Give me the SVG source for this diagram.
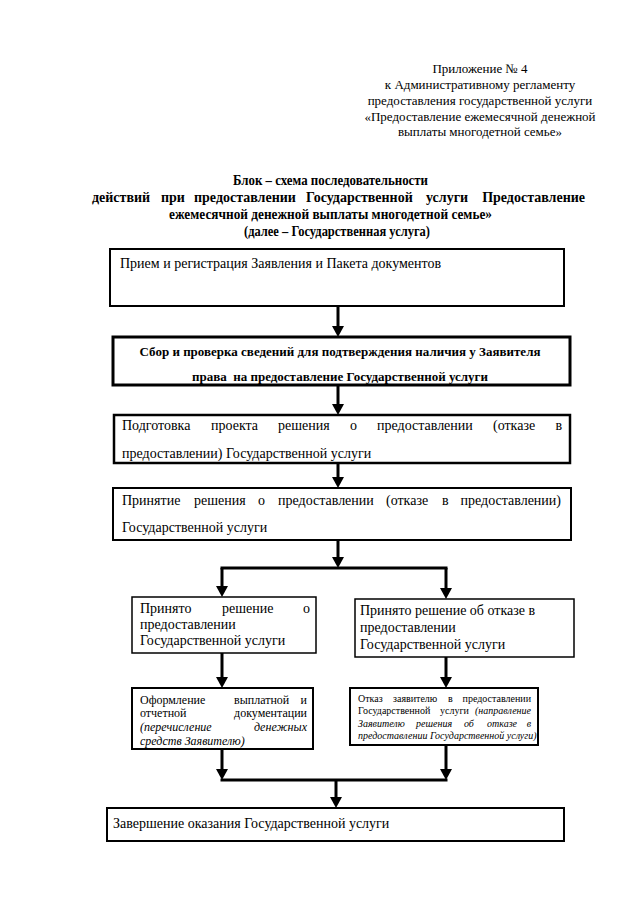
<svg xmlns="http://www.w3.org/2000/svg" width="640" height="905" viewBox="0 0 640 905">
<style>
text{font-family:"Liberation Serif","Times New Roman",serif;fill:#000}
.hd{font-size:13px;text-anchor:middle}
.tt{font-size:14px;font-weight:bold}
.b{font-size:14px}
.bb{font-size:13px;font-weight:bold;text-anchor:middle}
.m{font-size:14px}
.s{font-size:12px}
.xs{font-size:10px}
.i{font-style:italic}
.e{text-anchor:end}
rect{fill:#fff;stroke:#000}
.c line{stroke:#000;stroke-width:3}
.c polygon{fill:#000}
</style>
<rect x="0" y="0" width="640" height="905" style="stroke:none"/>
<g id="header">
<text class="hd" x="480" y="73">Приложение № 4</text>
<text class="hd" x="480" y="89">к Административному регламенту</text>
<text class="hd" x="480" y="105">предоставления государственной услуги</text>
<text class="hd" x="480" y="121">«Предоставление ежемесячной денежной</text>
<text class="hd" x="480" y="136">выплаты многодетной семье»</text>
</g>
<g id="title">
<text class="tt" x="233" y="185" textLength="195" lengthAdjust="spacingAndGlyphs">Блок – схема последовательности</text>
<text class="tt" y="202"><tspan x="92">действий</tspan><tspan x="161">при</tspan><tspan x="194">предоставлении</tspan><tspan x="306">Государственной</tspan><tspan x="426">услуги</tspan></text>
<text class="tt e" x="585" y="202">Предоставление</text>
<text class="tt" x="169" y="219" textLength="323" lengthAdjust="spacingAndGlyphs">ежемесячной денежной выплаты многодетной семье»</text>
<text class="tt" x="244" y="236" textLength="186" lengthAdjust="spacingAndGlyphs">(далее – Государственная услуга)</text>
</g>
<g id="n1">
<rect x="110" y="249" width="454" height="57" stroke-width="2"/>
<text class="b" x="120" y="268">Прием и регистрация Заявления и Пакета документов</text>
</g>
<g id="n2">
<rect x="113" y="337" width="457" height="48" stroke-width="3"/>
<text class="bb" x="340" y="356">Сбор и проверка сведений для подтверждения наличия у Заявителя</text>
<text class="bb" x="340" y="381" xml:space="preserve">права  на предоставление Государственной услуги</text>
</g>
<g id="n3">
<rect x="114" y="415" width="456" height="48" stroke-width="2.5"/>
<text class="b" y="430"><tspan x="122">Подготовка</tspan><tspan x="211">проекта</tspan><tspan x="278">решения</tspan><tspan x="350">о</tspan><tspan x="377">предоставлении</tspan><tspan x="493">(отказе</tspan></text>
<text class="b e" x="562" y="430">в</text>
<text class="b" x="122" y="458">предоставлении) Государственной услуги</text>
</g>
<g id="n4">
<rect x="113" y="488" width="458" height="52" stroke-width="2"/>
<text class="b" y="505"><tspan x="122">Принятие</tspan><tspan x="194">решения</tspan><tspan x="258">о</tspan><tspan x="278">предоставлении</tspan><tspan x="386">(отказе</tspan><tspan x="442">в</tspan></text>
<text class="b e" x="561" y="505">предоставлении)</text>
<text class="b" x="122" y="532">Государственной услуги</text>
</g>
<g id="n5">
<rect x="132" y="597" width="184" height="56" stroke-width="1.5"/>
<text class="m" y="613"><tspan x="140">Принято</tspan><tspan x="222">решение</tspan></text>
<text class="m e" x="310" y="613">о</text>
<text class="m" x="140" y="629">предоставлении</text>
<text class="m" x="140" y="645">Государственной услуги</text>
</g>
<g id="n6">
<rect x="355" y="599" width="219" height="58" stroke-width="1.5"/>
<text class="m" x="360" y="615">Принято решение об отказе в</text>
<text class="m" x="360" y="632">предоставлении</text>
<text class="m" x="360" y="649">Государственной услуги</text>
</g>
<g id="n7">
<rect x="132" y="688" width="181" height="61" stroke-width="2"/>
<text class="s" y="704"><tspan x="140">Оформление</tspan><tspan x="234">выплатной</tspan></text>
<text class="s e" x="307" y="704">и</text>
<text class="s" x="140" y="717">отчетной</text>
<text class="s e" x="307" y="717">документации</text>
<text class="s i" x="140" y="731">(перечисление</text>
<text class="s i e" x="307" y="731">денежных</text>
<text class="s i" x="140" y="745">средств Заявителю)</text>
</g>
<g id="n8">
<rect x="350" y="688" width="188" height="57" stroke-width="2"/>
<text class="xs" y="702"><tspan x="358">Отказ</tspan><tspan x="393">заявителю</tspan><tspan x="448">в</tspan></text>
<text class="xs e" x="531" y="702">предоставлении</text>
<text class="xs" y="714"><tspan x="358">Государственной</tspan><tspan x="440">услуги</tspan></text>
<text class="xs i e" x="531" y="714">(направление</text>
<text class="xs i" y="727"><tspan x="358">Заявителю</tspan><tspan x="416">решения</tspan><tspan x="464">об</tspan><tspan x="487">отказе</tspan></text>
<text class="xs i e" x="531" y="727">в</text>
<text class="xs i" x="358" y="739">предоставлении Государственной услуги)</text>
</g>
<g id="n9">
<rect x="107" y="808" width="457" height="33" stroke-width="2"/>
<text class="b" x="113" y="828">Завершение оказания Государственной услуги</text>
</g>
<g id="connectors" class="c">
<line x1="338" y1="306" x2="338" y2="327"/><polygon points="332,326 344,326 338,337"/>
<line x1="338" y1="385" x2="338" y2="405"/><polygon points="332,404 344,404 338,415"/>
<line x1="338" y1="463" x2="338" y2="478"/><polygon points="332,477 344,477 338,488"/>
<line x1="338" y1="540" x2="338" y2="558"/><polygon points="332,557 344,557 338,568"/>
<line x1="220.5" y1="568" x2="447.5" y2="568"/>
<line x1="222" y1="568" x2="222" y2="587"/><polygon points="216,586 228,586 222,597"/>
<line x1="446" y1="568" x2="446" y2="589"/><polygon points="440,588 452,588 446,599"/>
<line x1="222" y1="653" x2="222" y2="678"/><polygon points="216,677 228,677 222,688"/>
<line x1="446" y1="657" x2="446" y2="678"/><polygon points="440,677 452,677 446,688"/>
<line x1="222" y1="749" x2="222" y2="770"/><polygon points="216,769 228,769 222,780"/>
<line x1="446" y1="745" x2="446" y2="770"/><polygon points="440,769 452,769 446,780"/>
<line x1="220.5" y1="780" x2="447.5" y2="780"/>
<line x1="336" y1="780" x2="336" y2="798"/><polygon points="330,797 342,797 336,808"/>
</g>
</svg>
